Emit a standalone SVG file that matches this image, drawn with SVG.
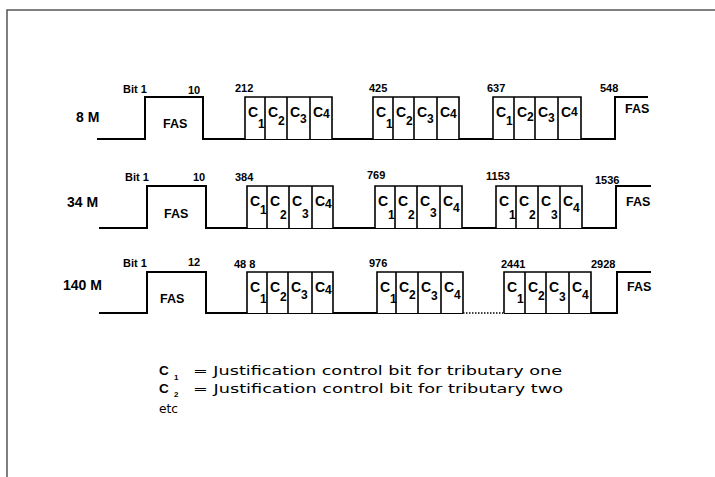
<svg xmlns="http://www.w3.org/2000/svg" width="715" height="477" viewBox="0 0 715 477">
<style>
.frame{fill:none;stroke:#555;stroke-width:1.5}
.wave{fill:none;stroke:#000;stroke-width:2}
.box{fill:#fff;stroke:#000;stroke-width:1.6}
.dots{fill:none;stroke:#000;stroke-width:1.6;stroke-dasharray:1.5 1.5}
text{font-family:"Liberation Sans",Arial,sans-serif;fill:#000}
.num{font-size:11px;font-weight:bold}
.rate{font-size:14px;font-weight:bold}
.fas{font-size:12.5px;font-weight:bold}
.c{font-size:14px;font-weight:bold}
.s{font-size:12px;font-weight:bold}
.lg{font-family:"DejaVu Sans","Liberation Sans",sans-serif;font-size:12.5px}
.lc{font-size:13.5px;font-weight:bold}
.ls{font-size:8px;font-weight:bold}
</style>
<rect width="715" height="477" fill="#fff"/>
<path class="frame" d="M7,477 V10 H715"/>

<g id="connectors">
<path class="wave" d="M97,139 H145 V97 H203 V139 H615 V97 H648"/>
<path class="wave" d="M99,228 H147 V186 H206 V228 H616 V186 H651"/>
<path class="wave" d="M99,313 H147 V272 H206 V313 H463"/>
<path class="dots" d="M463,313 H504"/>
<path class="wave" d="M504,313 H617 V272 H651"/>
</g>

<g id="row-8M">
<text class="rate" x="76" y="122">8 M</text>
<text class="num" x="123" y="93">Bit 1</text>
<text class="num" x="188" y="94">10</text>
<text class="fas" x="163" y="128">FAS</text>
<text class="num" x="235" y="92">212</text>
<text class="num" x="369" y="92">425</text>
<text class="num" x="487" y="92">637</text>
<text class="num" x="600" y="92">548</text>
<text class="fas" x="625" y="113">FAS</text>
</g>
<g id="row-34M">
<text class="rate" x="67" y="207">34 M</text>
<text class="num" x="125" y="181">Bit 1</text>
<text class="num" x="193" y="181">10</text>
<text class="fas" x="164" y="218">FAS</text>
<text class="num" x="235" y="181">384</text>
<text class="num" x="367" y="179">769</text>
<text class="num" x="486" y="180">1153</text>
<text class="num" x="595" y="184">1536</text>
<text class="fas" x="626" y="206">FAS</text>
</g>
<g id="row-140M">
<text class="rate" x="63" y="290">140 M</text>
<text class="num" x="123" y="267">Bit 1</text>
<text class="num" x="188" y="266">12</text>
<text class="fas" x="160" y="303">FAS</text>
<text class="num" x="234" y="268">48 8</text>
<text class="num" x="369" y="267">976</text>
<text class="num" x="501" y="268">2441</text>
<text class="num" x="591" y="268">2928</text>
<text class="fas" x="627" y="291">FAS</text>
</g>

<g id="r1g1">
<path class="box" d="M245,139 V97 H332 V139 M265,97 V139 M287,97 V139 M310,97 V139"/>
<text class="c" x="248" y="117">C</text><text class="s" x="258" y="128">1</text>
<text class="c" x="268" y="117">C</text><text class="s" x="278" y="125">2</text>
<text class="c" x="290" y="117">C</text><text class="s" x="300" y="123">3</text>
<text class="c" x="313" y="117">C</text><text class="s" x="323" y="118">4</text>
</g>
<g id="r1g2">
<path class="box" d="M373,139 V97 H459 V139 M393,97 V139 M414,97 V139 M437,97 V139"/>
<text class="c" x="376" y="117">C</text><text class="s" x="386" y="128">1</text>
<text class="c" x="396" y="117">C</text><text class="s" x="406" y="125">2</text>
<text class="c" x="417" y="117">C</text><text class="s" x="427" y="123">3</text>
<text class="c" x="440" y="117">C</text><text class="s" x="450" y="118">4</text>
</g>
<g id="r1g3">
<path class="box" d="M493,139 V97 H581 V139 M514,97 V139 M535,97 V139 M558,97 V139"/>
<text class="c" x="496" y="117">C</text><text class="s" x="506" y="125">1</text>
<text class="c" x="517" y="117">C</text><text class="s" x="527" y="121">2</text>
<text class="c" x="538" y="117">C</text><text class="s" x="548" y="122">3</text>
<text class="c" x="561" y="117">C</text><text class="s" x="571" y="116">4</text>
</g>

<g id="r2g1">
<path class="box" d="M247,228 V186 H333 V228 M267,186 V228 M289,186 V228 M312,186 V228"/>
<text class="c" x="250" y="206">C</text><text class="s" x="260" y="214">1</text>
<text class="c" x="270" y="206">C</text><text class="s" x="280" y="219">2</text>
<text class="c" x="292" y="206">C</text><text class="s" x="302" y="218">3</text>
<text class="c" x="315" y="206">C</text><text class="s" x="325" y="208">4</text>
</g>
<g id="r2g2">
<path class="box" d="M375,228 V186 H462 V228 M395,186 V228 M417,186 V228 M440,186 V228"/>
<text class="c" x="378" y="206">C</text><text class="s" x="388" y="219">1</text>
<text class="c" x="398" y="206">C</text><text class="s" x="408" y="219">2</text>
<text class="c" x="420" y="206">C</text><text class="s" x="430" y="217">3</text>
<text class="c" x="443" y="206">C</text><text class="s" x="453" y="212">4</text>
</g>
<g id="r2g3">
<path class="box" d="M496,228 V186 H582 V228 M516,186 V228 M538,186 V228 M560,186 V228"/>
<text class="c" x="499" y="206">C</text><text class="s" x="509" y="219">1</text>
<text class="c" x="519" y="206">C</text><text class="s" x="529" y="219">2</text>
<text class="c" x="541" y="206">C</text><text class="s" x="551" y="219">3</text>
<text class="c" x="563" y="206">C</text><text class="s" x="573" y="212">4</text>
</g>

<g id="r3g1">
<path class="box" d="M247,313 V272 H333 V313 M267,272 V313 M288,272 V313 M312,272 V313"/>
<text class="c" x="250" y="292">C</text><text class="s" x="260" y="303">1</text>
<text class="c" x="270" y="292">C</text><text class="s" x="280" y="301">2</text>
<text class="c" x="291" y="292">C</text><text class="s" x="301" y="299">3</text>
<text class="c" x="315" y="292">C</text><text class="s" x="325" y="294">4</text>
</g>
<g id="r3g2">
<path class="box" d="M377,313 V272 H463 V313 M396,272 V313 M418,272 V313 M441,272 V313"/>
<text class="c" x="380" y="292">C</text><text class="s" x="390" y="303">1</text>
<text class="c" x="399" y="292">C</text><text class="s" x="409" y="299">2</text>
<text class="c" x="421" y="292">C</text><text class="s" x="431" y="300">3</text>
<text class="c" x="444" y="292">C</text><text class="s" x="454" y="299">4</text>
</g>
<g id="r3g3">
<path class="box" d="M504,313 V272 H591 V313 M525,272 V313 M546,272 V313 M569,272 V313"/>
<text class="c" x="507" y="292">C</text><text class="s" x="517" y="303">1</text>
<text class="c" x="528" y="292">C</text><text class="s" x="538" y="300">2</text>
<text class="c" x="549" y="292">C</text><text class="s" x="559" y="301">3</text>
<text class="c" x="572" y="292">C</text><text class="s" x="582" y="299">4</text>
</g>

<g id="legend">
<text class="lc" x="159" y="375">C</text><text class="ls" x="174" y="380">1</text>
<text class="lg" x="193" y="375" textLength="369" lengthAdjust="spacingAndGlyphs">= Justification control bit for tributary one</text>
<text class="lc" x="159" y="393">C</text><text class="ls" x="174" y="397">2</text>
<text class="lg" x="193" y="393" textLength="370" lengthAdjust="spacingAndGlyphs">= Justification control bit for tributary two</text>
<text class="lg" x="159" y="413" textLength="19" lengthAdjust="spacingAndGlyphs">etc</text>
</g>
</svg>
